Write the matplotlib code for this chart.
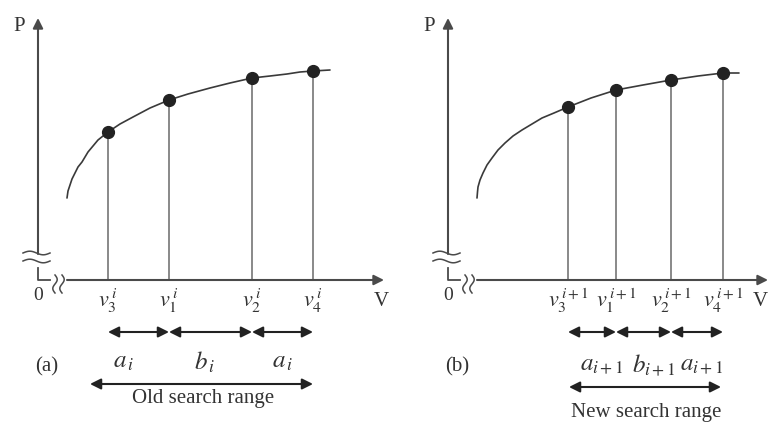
import matplotlib
matplotlib.use('Agg')
import matplotlib.pyplot as plt
import numpy as np

plt.rcParams['font.family'] = ['Liberation Serif', 'DejaVu Serif']
plt.rcParams['mathtext.fontset'] = 'stix'

# ---- Panel (a): iteration i ----
v_a = [70, 131, 214, 275]            # positions of v3, v1, v2, v4
p_a = [148, 180, 202, 209]           # power at those points
sub_a = ['3', '1', '2', '4']
curve_a_v = [29, 30, 32, 34, 37, 40, 44, 50, 55, 60, 70, 82, 95, 112, 131, 150, 172, 192, 214, 232, 249, 262, 275, 292]
curve_a_p = [82, 89, 95, 101, 107, 113, 118, 128, 134, 140, 148, 156, 163, 172, 180, 186, 192, 197, 202, 204, 206, 208, 209, 210]
seg_a = ['$a_{\\,i}$', '$b_{\\,i}$', '$a_{\\,i}$']

# ---- Panel (b): iteration i+1 ----
v_b = [120, 168, 223, 275]
p_b = [173, 190, 200, 207]
sub_b = ['3', '1', '2', '4']
curve_b_v = [29, 29.5, 30, 32, 35, 39, 44, 50, 57, 65, 74, 84, 94, 106, 120, 143, 168, 195, 223, 250, 275, 291]
curve_b_p = [82, 88, 93, 100, 107, 115, 122, 130, 137, 144, 150, 156, 162, 167, 173, 182, 190, 195, 200, 204, 207, 207]
seg_b = ['$a_{\\mathit{i+1}}$', '$b_{\\mathit{i+1}}$', '$a_{\\mathit{i+1}}$']

fig = plt.figure(figsize=(7.68, 4.23), dpi=100)
AX_C = '#4a4a4a'
LN_C = '#6a6a6a'
DOT_C = '#222222'
TXT_C = '#333333'


def panel(ax, v, p, cv, cp, subs, sup, segs, seg_x, seg_y, big, big_y, txt, txt_xy, tag, xmax, vx):
    ax.set_ylim(-143, 280)
    ax.axis('off')
    # y axis with arrow
    ax.annotate('', xy=(0, 262), xytext=(0, 26),
                arrowprops=dict(arrowstyle='-|>', color=AX_C, lw=1.5, mutation_scale=15,
                                shrinkA=0, shrinkB=0))
    ax.plot([0, 0, 12], [12, 0, 0], color=AX_C, lw=1.3)
    # x axis with arrow
    ax.annotate('', xy=(xmax, 0), xytext=(29, 0),
                arrowprops=dict(arrowstyle='-|>', color=AX_C, lw=1.5, mutation_scale=15,
                                shrinkA=0, shrinkB=0))
    # break marks
    t = np.linspace(0, 1, 40)
    for yy in (27, 19):
        ax.plot(-15 + 27 * t, yy + 1.8 * np.sin(2 * np.pi * t), color=AX_C, lw=1.1)
    for xx in (17, 24):
        ax.plot(xx + 2.2 * np.sin(2 * np.pi * t), 5 - 18 * t, color=AX_C, lw=1.1)
    # curve
    ax.plot(cv, cp, color='#3a3a3a', lw=1.2, solid_capstyle='round', solid_joinstyle='round')
    # vertical lines and dots
    for vi, pi in zip(v, p):
        ax.plot([vi, vi], [0, pi], color=LN_C, lw=1.1)
    ax.plot(v, p, 'o', color=DOT_C, ms=8.5)
    # labels under axis
    for vi, s in zip(v, subs):
        ax.text(vi, -21, '$v_{\\mathit{%s}}^{\\,%s}$' % (s, sup), ha='center', va='center',
                fontsize=16, color=TXT_C)
    ax.text(0, -16, '0', ha='center', va='center', fontsize=14, color=TXT_C)
    ax.text(-19, 254, 'P', ha='center', va='center', fontsize=15, color=TXT_C)
    ax.text(vx, -21, 'V', ha='center', va='center', fontsize=15, color=TXT_C)
    # segment arrows
    for x0, x1 in zip(v[:-1], v[1:]):
        ax.annotate('', xy=(x1, -52), xytext=(x0, -52),
                    arrowprops=dict(arrowstyle='<|-|>', color='#222222', lw=1.5,
                                    mutation_scale=16, shrinkA=0, shrinkB=0))
    for sx, s in zip(seg_x, segs):
        ax.text(sx, seg_y, s, ha='center', va='center', fontsize=18, color=TXT_C)
    ax.annotate('', xy=(big[1], big_y), xytext=(big[0], big_y),
                arrowprops=dict(arrowstyle='<|-|>', color='#222222', lw=1.5,
                                mutation_scale=16, shrinkA=0, shrinkB=0))
    ax.text(txt_xy[0], txt_xy[1], txt, ha='center', va='center', fontsize=15, color=TXT_C)
    ax.text(9, -87, tag, ha='center', va='center', fontsize=15, color=TXT_C)


axa = fig.add_axes([0, 0, 0.5, 1])
axa.set_xlim(-38, 346)
panel(axa, v_a, p_a, curve_a_v, curve_a_p, sub_a, '\\mathit{i}', seg_a,
      [86, 167, 245], -82, (52, 275), -104, 'Old search range', (165, -119), '(a)', 346, 343)

axb = fig.add_axes([0.5, 0, 0.5, 1])
axb.set_xlim(-64, 320)
panel(axb, v_b, p_b, curve_b_v, curve_b_p, sub_b, '\\mathit{i+1}', seg_b,
      [154, 206, 254], -85, (121, 273), -107, 'New search range', (198, -133), '(b)', 320, 312)

fig.savefig('out.png', dpi=100)
